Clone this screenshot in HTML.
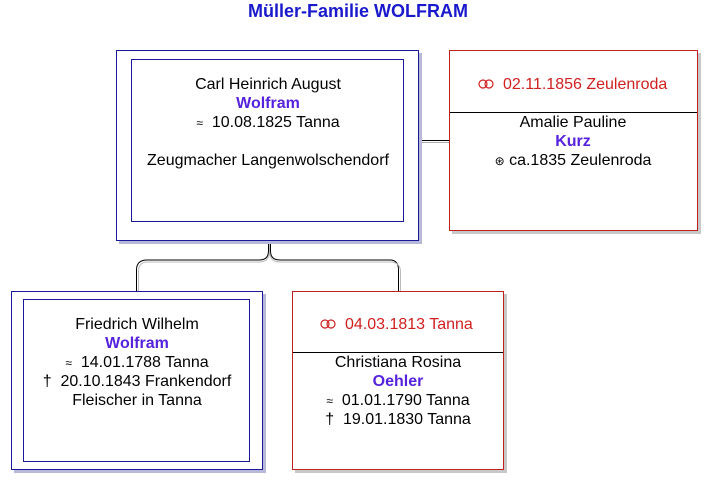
<!DOCTYPE html>
<html><head><meta charset="utf-8"><style>
html,body{margin:0;padding:0;background:#fff;width:717px;height:490px;overflow:hidden}
svg text{font-family:"Liberation Sans",sans-serif;font-size:16px;white-space:pre}
</style></head><body>
<svg width="717" height="490" xmlns="http://www.w3.org/2000/svg">
<text x="358" y="17" text-anchor="middle" fill="#1a1acc" font-weight="bold" style="font-size:18px">Müller-Familie WOLFRAM</text>
<!-- connectors -->
<g fill="none">
<path d="M419.5 140.5 H449.5" stroke="#000"/>
<path d="M419.5 142.5 H449.5" stroke="#aaa"/>
<path d="M268.5 231 V251 Q268.5 260 259 260 H147 Q136.5 260 136.5 270 V291" stroke="#000"/>
<path d="M270.5 231 V251 Q270.5 260 280 260 H390 Q398.5 260 398.5 270 V291" stroke="#000"/>
<path d="M269.5 231 V251 Q269.5 262 259 262 H147 Q138.5 262 138.5 272 V291" stroke="#bbb"/>
<path d="M269.5 251 Q269.5 262 280 262 H390 Q400.5 262 400.5 272 V291" stroke="#bbb"/>
</g>
<!-- shadows -->
<rect x="119" y="53" width="303" height="191" fill="#b8b8d8"/>
<rect x="452" y="53" width="249" height="181" fill="#c8c8c8"/>
<rect x="14" y="294" width="252" height="179" fill="#b8b8d8"/>
<rect x="295" y="294" width="212" height="179" fill="#c8c8c8"/>
<!-- top man -->
<rect x="116.5" y="50.5" width="302" height="190" fill="#fff" stroke="#1a1a99"/>
<rect x="131.5" y="59.5" width="272" height="162" fill="#fff" stroke="#1a1a99"/>
<text x="268" y="89" text-anchor="middle">Carl Heinrich August</text>
<text x="268" y="108" text-anchor="middle" fill="#5522dd" font-weight="bold">Wolfram</text>
<text x="268" y="127" text-anchor="middle" xml:space="preserve"><tspan style="font-size:12px">≈</tspan>  10.08.1825 Tanna</text>
<text x="268" y="165" text-anchor="middle">Zeugmacher Langenwolschendorf</text>
<!-- wife -->
<rect x="449.5" y="50.5" width="248" height="180" fill="#fff" stroke="#c02020"/>
<line x1="450" y1="112.5" x2="697" y2="112.5" stroke="#000"/>
<g fill="none" stroke="#d02020" stroke-width="1.2"><circle cx="483" cy="84" r="4"/><circle cx="489" cy="84" r="4"/></g>
<text x="503" y="89" fill="#d02020">02.11.1856 Zeulenroda</text>
<text x="573" y="127" text-anchor="middle">Amalie Pauline</text>
<text x="573" y="146" text-anchor="middle" fill="#5522dd" font-weight="bold">Kurz</text>
<text x="573" y="165" text-anchor="middle"><tspan style="font-size:12px">⊛</tspan> ca.1835 Zeulenroda</text>
<!-- bottom left -->
<rect x="11.5" y="291.5" width="251" height="178" fill="#fff" stroke="#1a1a99"/>
<rect x="23.5" y="299.5" width="226" height="162" fill="#fff" stroke="#1a1a99"/>
<text x="137" y="329" text-anchor="middle">Friedrich Wilhelm</text>
<text x="137" y="348" text-anchor="middle" fill="#5522dd" font-weight="bold">Wolfram</text>
<text x="137" y="367" text-anchor="middle" xml:space="preserve"><tspan style="font-size:12px">≈</tspan>  14.01.1788 Tanna</text>
<text x="137" y="386" text-anchor="middle" xml:space="preserve">†  20.10.1843 Frankendorf</text>
<text x="137" y="405" text-anchor="middle">Fleischer in Tanna</text>
<!-- bottom right -->
<rect x="292.5" y="291.5" width="211" height="178" fill="#fff" stroke="#c02020"/>
<line x1="293" y1="352.5" x2="503" y2="352.5" stroke="#000"/>
<g fill="none" stroke="#d02020" stroke-width="1.2"><circle cx="325" cy="324" r="4"/><circle cx="331" cy="324" r="4"/></g>
<text x="345" y="329" fill="#d02020">04.03.1813 Tanna</text>
<text x="398" y="367" text-anchor="middle">Christiana Rosina</text>
<text x="398" y="386" text-anchor="middle" fill="#5522dd" font-weight="bold">Oehler</text>
<text x="398" y="405" text-anchor="middle" xml:space="preserve"><tspan style="font-size:12px">≈</tspan>  01.01.1790 Tanna</text>
<text x="398" y="424" text-anchor="middle" xml:space="preserve">†  19.01.1830 Tanna</text>
</svg>
</body></html>
